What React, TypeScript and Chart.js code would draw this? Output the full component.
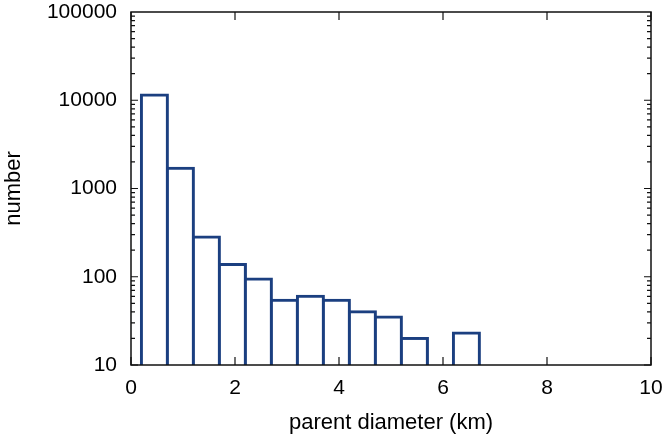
import React, { useEffect, useRef } from 'react';
import { Chart, registerables } from 'chart.js';

Chart.register(...registerables);

// Histogram bins (lower edges, km) and counts
const binLower = [0.2, 0.7, 1.2, 1.7, 2.2, 2.7, 3.2, 3.7, 4.2, 4.7, 5.2, 6.2];
const counts = [11500, 1700, 283, 138, 94, 54, 60, 54, 40, 35, 20, 23];
const binWidth = 0.5;
const xTicks = [0, 2, 4, 6, 8, 10];
const yTicks = [10, 100, 1000, 10000, 100000];

const FONT = "'Liberation Sans', Arial, Helvetica, sans-serif";
const BAR_COLOR = '#1b3f80';

const framePlugin = {
  id: 'frame',
  afterDatasetsDraw(chart: any) {
    const { ctx, chartArea: a, scales } = chart;
    const x = scales.x;
    const y = scales.y;
    ctx.save();
    ctx.strokeStyle = '#111';
    ctx.lineWidth = 1.2;
    ctx.beginPath();
    for (const v of xTicks) {
      const px = x.getPixelForValue(v);
      ctx.moveTo(px, a.bottom);
      ctx.lineTo(px, a.bottom - 8);
      ctx.moveTo(px, a.top);
      ctx.lineTo(px, a.top + 8);
    }
    for (let e = 1; e < 5; e++) {
      for (let m = 1; m < 10; m++) {
        const v = m * Math.pow(10, e);
        const py = y.getPixelForValue(v);
        const len = m === 1 ? 7 : 4;
        ctx.moveTo(a.left, py);
        ctx.lineTo(a.left + len, py);
        ctx.moveTo(a.right, py);
        ctx.lineTo(a.right - len, py);
      }
    }
    ctx.stroke();
    ctx.lineWidth = 1.5;
    ctx.strokeRect(a.left, a.top, a.right - a.left, a.bottom - a.top);
    ctx.restore();
  },
};

export default function App() {
  const ref = useRef<HTMLCanvasElement | null>(null);

  useEffect(() => {
    if (!ref.current) return;
    const chart = new Chart(ref.current, {
      type: 'bar',
      data: {
        datasets: [
          {
            data: binLower.map((b, i) => ({ x: b + binWidth / 2, y: counts[i] })),
            backgroundColor: '#ffffff',
            borderColor: BAR_COLOR,
            borderWidth: 3,
            inflateAmount: 1.5,
            borderSkipped: 'start',
            barPercentage: 1,
            categoryPercentage: 1,
          } as any,
        ],
      },
      options: {
        animation: false,
        responsive: false,
        events: [],
        layout: { padding: { top: 12, right: 15, left: 0, bottom: 0 } },
        plugins: {
          legend: { display: false },
          tooltip: { enabled: false },
        },
        scales: {
          x: {
            type: 'linear',
            offset: false,
            min: 0,
            max: 10,
            grid: { display: false, drawTicks: false },
            border: { display: false },
            afterBuildTicks: (s: any) => {
              s.ticks = xTicks.map((v) => ({ value: v }));
            },
            afterFit: (s: any) => {
              s.height = 75;
              s.paddingLeft = 0;
              s.paddingRight = 0;
            },
            ticks: {
              color: '#000',
              padding: 11,
              maxRotation: 0,
              autoSkip: false,
              font: { family: FONT, size: 21 },
              callback: (v: any) => String(v),
            },
            title: {
              display: true,
              text: 'parent diameter (km)',
              color: '#000',
              font: { family: FONT, size: 22 },
              padding: { top: 0, bottom: 4 },
            },
          },
          y: {
            type: 'logarithmic',
            min: 10,
            max: 100000,
            grid: { display: false, drawTicks: false },
            border: { display: false },
            afterBuildTicks: (s: any) => {
              s.ticks = yTicks.map((v) => ({ value: v }));
            },
            afterFit: (s: any) => {
              s.width = 131;
              s.paddingTop = 0;
              s.paddingBottom = 0;
            },
            ticks: {
              color: '#000',
              padding: 14,
              autoSkip: false,
              font: { family: FONT, size: 21 },
              callback: (v: any) => String(v),
            },
            title: {
              display: true,
              text: 'number',
              color: '#000',
              font: { family: FONT, size: 22 },
              padding: { top: 1, bottom: 0 },
            },
          },
        },
      },
      plugins: [framePlugin],
    });
    return () => chart.destroy();
  }, []);

  return (
    <div style={{ position: 'absolute', left: 0, top: 0, width: 666, height: 440, background: '#fff' }}>
      <canvas ref={ref} width={666} height={440} style={{ display: 'block' }} />
    </div>
  );
}
